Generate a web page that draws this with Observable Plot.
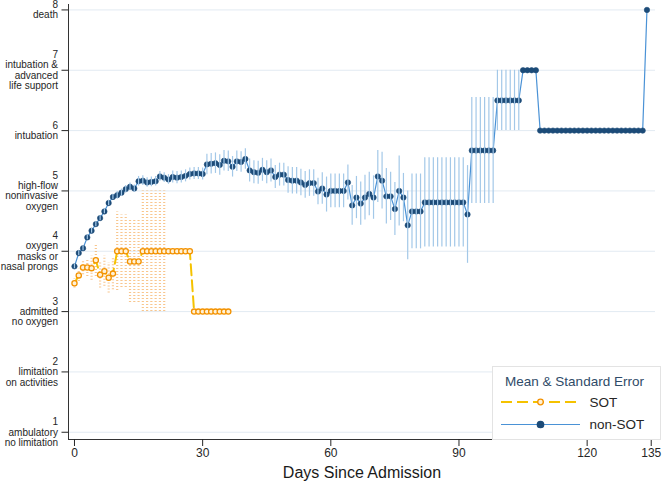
<!DOCTYPE html>
<html><head><meta charset="utf-8">
<script src="https://cdn.jsdelivr.net/npm/d3@7"></script>
<script src="https://cdn.jsdelivr.net/npm/@observablehq/plot@0.6"></script>
<style>
html,body{margin:0;padding:0;background:#fff;}
#chart{position:relative;width:663px;height:481px;font-family:"Liberation Sans",Arial,sans-serif;}
#legend{position:absolute;left:491.5px;top:365.5px;}
</style></head><body>
<div id="chart"></div>
<script>
// ---- data ----
const xTicks = [0, 30, 60, 90, 120, 135];
const yTicks = [1, 2, 3, 4, 5, 6, 7, 8];
const yLabels = [
  "1\nambulatory\nno limitation",
  "2\nlimitation\non activities",
  "3\nadmitted\nno oxygen",
  "4\noxygen\nmasks or\nnasal prongs",
  "5\nhigh-flow\nnoninvasive\noxygen",
  "6\nintubation",
  "7\nintubation &\nadvanced\nlife support",
  "8\ndeath"
];

const nonSotDays = [
  0,1,2,3,4,5,6,7,8,9,10,11,12,13,14,15,16,17,18,19,
  20,21,22,23,24,25,26,27,28,29,30,31,32,33,34,35,36,37,38,39,
  40,41,42,43,44,45,46,47,48,49,50,51,52,53,54,55,56,57,58,59,
  60,61,62,63,64,65,66,67,68,69,70,71,72,73,74,75,76,77,78,79,
  80,81,82,83,84,85,86,87,88,89,90,91,92,93,94,95,96,97,98,99,
  100,101,102,103,104,105,106,107,108,109,110,111,112,113,114,115,116,117,118,119,
  120,121,122,123,124,125,126,127,128,129,130,131,132,133,134
];
const nonSotMean = [
  3.75,3.97,4.05,4.23,4.34,4.45,4.55,4.66,4.80,4.90,
  4.93,4.97,5.03,5.07,5.04,5.16,5.17,5.14,5.15,5.16,
  5.24,5.22,5.19,5.23,5.22,5.23,5.25,5.28,5.29,5.29,
  5.28,5.44,5.45,5.46,5.43,5.50,5.49,5.40,5.49,5.48,
  5.53,5.34,5.31,5.30,5.35,5.31,5.34,5.23,5.27,5.27,
  5.18,5.17,5.17,5.14,5.10,5.13,5.13,4.99,5.04,4.94,
  5.00,5.00,5.00,5.00,5.14,4.76,4.89,4.79,4.89,4.95,
  4.89,5.24,5.17,4.91,4.91,4.70,5.00,4.89,4.43,4.66,
  4.66,4.66,4.81,4.81,4.81,4.81,4.81,4.81,4.81,4.81,
  4.81,4.81,4.61,5.67,5.67,5.67,5.67,5.67,5.67,6.5,
  6.5,6.5,6.5,6.5,6.5,7,7,7,7,6,
  6,6,6,6,6,6,6,6,6,6,
  6,6,6,6,6,6,6,6,6,6,
  6,6,6,6,8
];
const nonSotSE = [
  0.04,0.04,0.04,0.04,0.04,0.04,0.04,0.04,0.04,0.04,
  0.06,0.06,0.06,0.06,0.06,0.08,0.08,0.08,0.08,0.08,
  0.08,0.08,0.08,0.10,0.10,0.10,0.10,0.10,0.10,0.10,
  0.10,0.17,0.17,0.17,0.17,0.17,0.17,0.17,0.17,0.17,
  0.17,0.19,0.19,0.19,0.19,0.19,0.19,0.19,0.19,0.19,
  0.22,0.22,0.22,0.22,0.22,0.22,0.22,0.22,0.26,0.29,
  0.28,0.28,0.28,0.28,0.29,0.33,0.35,0.36,0.37,0.36,
  0.36,0.43,0.47,0.46,0.40,0.44,0.58,0.40,0.57,0.62,
  0.62,0.62,0.74,0.74,0.74,0.74,0.74,0.74,0.74,0.74,
  0.74,0.74,0.81,0.88,0.88,0.88,0.88,0.88,0.88,0.50,
  0.50,0.50,0.50,0.50,0.50,0,0,0,0,0,
  0,0,0,0,0,0,0,0,0,0,
  0,0,0,0,0,0,0,0,0,0,
  0,0,0,0,0
];

const sotDays = [
  0,1,2,3,4,5,6,7,8,9,10,11,12,13,14,15,16,17,18,19,
  20,21,22,23,24,25,26,27,28,29,30,31,32,33,34,35,36
];
const sotMean = [
  3.47,3.60,3.73,3.73,3.72,3.85,3.61,3.67,3.56,3.63,
  4.0,4.0,4.0,3.83,3.83,3.83,4.0,4.0,4.0,4.0,
  4.0,4.0,4.0,4.0,4.0,4.0,4.0,4.0,3.0,3.0,
  3.0,3.0,3.0,3.0,3.0,3.0,3.0
];
const sotSE = [
  0.08,0.10,0.12,0.15,0.20,0.27,0.22,0.25,0.25,0.27,
  0.65,0.60,0.60,0.68,0.68,0.68,1.0,1.0,1.0,1.0,
  1.0,1.0,0,0,0,0,0,0,0,0,
  0,0,0,0,0,0,0
];

// ---- build tables ----
const nonSot = nonSotDays.map((d, i) => ({day: d, mean: nonSotMean[i], se: nonSotSE[i]}));
const sot = sotDays.map((d, i) => ({day: d, mean: sotMean[i], se: sotSE[i]}));

const xDomain = [-1.4, 136];
const yDomain = [0.88, 8.09];

const chart = Plot.plot({
  width: 663, height: 481,
  marginLeft: 68, marginRight: 8, marginTop: 4, marginBottom: 42,
  style: {fontFamily: '"Liberation Sans", Arial, sans-serif', background: "#fff", color: "#262626"},
  x: {domain: xDomain},
  y: {domain: yDomain},
  marks: [
    Plot.gridY({ticks: yTicks, stroke: "#e2eaf2", strokeOpacity: 1, strokeWidth: 1}),
    // non-SOT
    Plot.line(nonSot, {x: "day", y: "mean", stroke: "#4a92d6", strokeWidth: 1.2}),
    Plot.dot(nonSot, {x: "day", y: "mean", r: 2.7, fill: "#1c4b78", stroke: "#1c4b78", strokeWidth: 0.6}),
    Plot.ruleX(nonSot.filter(d => d.se > 0), {x: "day", y1: d => d.mean - d.se, y2: d => d.mean + d.se, stroke: "#a3c8e8", strokeWidth: 1.2}),
    // SOT
    Plot.ruleX(sot.filter(d => d.se > 0), {x: "day", y1: d => d.mean - d.se, y2: d => d.mean + d.se, stroke: "#f5ae5e", strokeWidth: 2.2, strokeDasharray: "1,2", strokeOpacity: 0.7}),
    Plot.line(sot, {x: "day", y: "mean", stroke: "#f5c200", strokeWidth: 2, strokeDasharray: "11,5"}),
    Plot.dot(sot, {x: "day", y: "mean", r: 2.6, fill: "#fff1d6", stroke: "#f39200", strokeWidth: 1.3}),
    // axes
    Plot.ruleX([xDomain[0]], {stroke: "#333", strokeWidth: 1}),
    Plot.ruleY([yDomain[0]], {stroke: "#333", strokeWidth: 1}),
    Plot.axisY({ticks: yTicks, tickFormat: d => yLabels[yTicks.indexOf(d)], tickSize: 6.5, tickPadding: 4, fontSize: 10, lineHeight: 1.03, label: null}),
    Plot.axisX({ticks: xTicks, tickSize: 7, tickPadding: 2, fontSize: 12, label: null}),
    Plot.text(["Days Since Admission"], {text: d => d, frameAnchor: "bottom", dy: 33, fontSize: 16, lineAnchor: "middle", fill: "#1a1a1a"})
  ]
});
document.getElementById("chart").appendChild(chart);

// ---- legend ----
const legendItems = [
  {label: "SOT", line: "#f5c200", width: 2, dash: "11,5", fill: "#fff1d6", stroke: "#f39200", r: 2.8},
  {label: "non-SOT", line: "#4a92d6", width: 1.2, dash: null, fill: "#1c4b78", stroke: "#1c4b78", r: 3.2}
];
const lg = d3.select("#chart").append("svg").attr("id", "legend")
  .attr("width", 170).attr("height", 75)
  .style("font-family", '"Liberation Sans", Arial, sans-serif');
lg.append("rect").attr("x", 0.5).attr("y", 0.5).attr("width", 168).attr("height", 73)
  .attr("fill", "#fff").attr("stroke", "#e3e3e3");
lg.append("text").attr("x", 82.5).attr("y", 20).attr("text-anchor", "middle")
  .attr("font-size", 13.5).attr("fill", "#2f4b68").text("Mean & Standard Error");
legendItems.forEach((it, i) => {
  const cy = 36 + i * 22.5;
  const l = lg.append("line").attr("x1", 9).attr("x2", 88).attr("y1", cy).attr("y2", cy)
    .attr("stroke", it.line).attr("stroke-width", it.width);
  if (it.dash) l.attr("stroke-dasharray", it.dash);
  lg.append("circle").attr("cx", 48.5).attr("cy", cy).attr("r", it.r)
    .attr("fill", it.fill).attr("stroke", it.stroke).attr("stroke-width", 1.3);
  lg.append("text").attr("x", 97.5).attr("y", cy + 4.8).attr("font-size", 13.5)
    .attr("fill", "#262626").text(it.label);
});
</script>
</body></html>
